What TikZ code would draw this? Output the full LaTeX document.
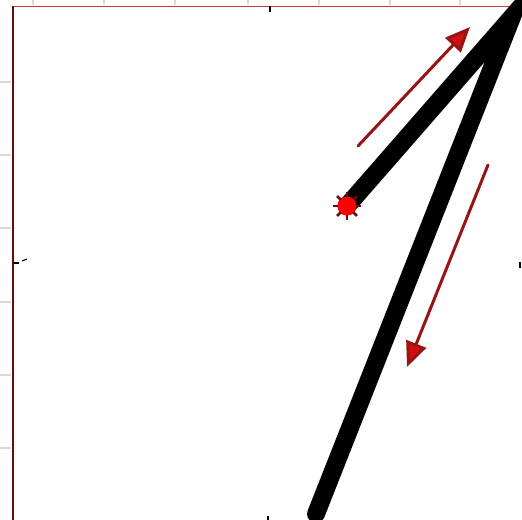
\documentclass[tikz,border=0pt]{standalone}
\usetikzlibrary{arrows.meta}
\definecolor{framered}{RGB}{200,60,60}
\definecolor{darkred}{RGB}{110,10,10}
\definecolor{arrowred}{RGB}{150,20,20}
\definecolor{headred}{RGB}{210,15,15}
\tikzset{
  graytick/.style={black!15, line width=1.2pt},
  blacktick/.style={black, line width=1.6pt},
  wire/.style={black, line width=10.2pt, line join=miter, line cap=round},
  motion/.style={arrowred, line width=1.7pt, line cap=round,
    -{Triangle[length=0.5cm,width=0.42cm,fill=headred]}},
  marker/.style={circle, fill=red, inner sep=0pt, minimum size=0.38cm}
}
\begin{document}
\begin{tikzpicture}[x=0.02cm, y=-0.02cm]
\useasboundingbox (0,0) rectangle (522,520);
\fill[white] (0,0) rectangle (522,520);
% grey ticks outside the frame
\foreach \yy in {82,155,228,302,375,448}
  \draw[graytick] (0,\yy) -- (11,\yy);
\foreach \xx in {33,104,175,248,319,390,460}
  \draw[graytick] (\xx,0) -- (\xx,5);
% frame
\draw[framered, line width=0.5pt] (13,6) -- (522,6);
\draw[darkred, line width=1.3pt] (13,6) -- (13,520);
% black ticks
\draw[blacktick] (270,6) -- (270,12);
\draw[blacktick] (13,263) -- (19,263);
\draw[black, line width=0.6pt] (22,261) -- (27,259);
\draw[blacktick] (520,262) -- (520,268);
\draw[blacktick] (268,516) -- (268,520);
% bent wire
\coordinate (apex) at (512,17);
\coordinate (foot) at (316,514);
\node[marker] (tip) at (347,206) {};
\draw[wire] (tip.center) -- (apex) -- (foot);
\node[marker] at (tip) {};
\foreach \ang in {0,45,...,315}
  \draw[darkred, line width=1.5pt] (tip) ++(\ang:9) -- ++(\ang:5);
% motion arrows
\coordinate (upA) at (358,146);
\coordinate (upB) at (470,27);
\coordinate (downA) at (488,165);
\coordinate (downB) at (407,367);
\draw[motion] (upA) -- (upB);
\draw[motion] (downA) -- (downB);
\end{tikzpicture}
\end{document}
